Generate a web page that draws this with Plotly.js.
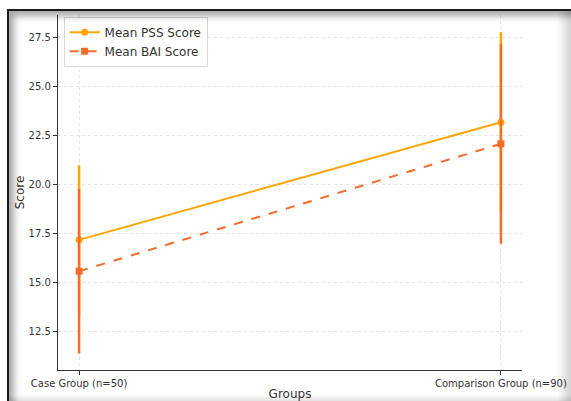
<!DOCTYPE html>
<html>
<head>
<meta charset="utf-8">
<script src="https://cdn.plot.ly/plotly-3.0.1.min.js"></script>
<style>
  html, body { margin: 0; padding: 0; background: #fff; }
  #wrap { position: relative; width: 571px; height: 401px; overflow: hidden; }
  #chart { position: absolute; left: 0; top: 0; width: 571px; height: 401px; }
  #frame { position: absolute; left: 7px; top: 9px; width: 580px; height: 400px;
           border-top: 2px solid #1a1a1a; border-left: 2px solid #1a1a1a;
           box-shadow: inset 7px 7px 7px -2px rgba(0,0,0,0.35);
           pointer-events: none; }
  #rshade { position: absolute; right: 0; top: 11px; width: 14px; height: 390px;
            background: linear-gradient(to right, rgba(0,0,0,0), rgba(0,0,0,0.18));
            pointer-events: none; }
  #bshade { position: absolute; left: 9px; bottom: 0; width: 562px; height: 6px;
            background: linear-gradient(to bottom, rgba(0,0,0,0), rgba(0,0,0,0.12));
            pointer-events: none; }
</style>
</head>
<body>
<div id="wrap">
  <div id="chart"></div>
  <div id="frame"></div>
  <div id="rshade"></div>
  <div id="bshade"></div>
</div>
<script>
const groups = ["Case Group (n=50)", "Comparison Group (n=90)"];
const pssMean = [17.2, 23.2];
const pssErr = [3.8, 4.6];
const baiMean = [15.6, 22.1];
const baiErr = [4.2, 5.1];
const yTicks = [12.5, 15.0, 17.5, 20.0, 22.5, 25.0, 27.5];

const PSS_COLOR = "#FFA500";
const BAI_COLOR = "#F56B2A";

const traces = [
  {
    x: groups, y: pssMean, type: "scatter", mode: "lines+markers",
    name: "Mean PSS Score",
    line: { color: PSS_COLOR, width: 2 },
    marker: { color: PSS_COLOR, symbol: "circle", size: 7 },
    error_y: { type: "data", array: pssErr, visible: true, color: PSS_COLOR, thickness: 2.5, width: 0 }
  },
  {
    x: groups, y: baiMean, type: "scatter", mode: "lines+markers",
    name: "Mean BAI Score",
    line: { color: BAI_COLOR, width: 2, dash: "dash" },
    marker: { color: BAI_COLOR, symbol: "square", size: 7 },
    error_y: { type: "data", array: baiErr, visible: true, color: BAI_COLOR, thickness: 2.5, width: 0 }
  }
];

const layout = {
  width: 571, height: 401,
  margin: { l: 58, r: 49, t: 15, b: 31 },
  paper_bgcolor: "#ffffff", plot_bgcolor: "#ffffff",
  font: { family: "DejaVu Sans", color: "#333333", size: 10 },
  showlegend: true,
  legend: {
    x: 0.012, y: 0.995, xanchor: "left", yanchor: "top",
    bgcolor: "rgba(255,255,255,0.9)", bordercolor: "#d8d8d8", borderwidth: 1,
    font: { family: "DejaVu Sans", size: 12, color: "#333333" },
    tracegroupgap: 0, itemwidth: 30
  },
  xaxis: {
    type: "category", range: [-0.05, 1.05],
    showline: true, linecolor: "#333333", linewidth: 1.2,
    ticks: "outside", ticklen: 4, tickcolor: "#333333",
    showgrid: true, gridcolor: "#e4e4e4", griddash: "dot", gridwidth: 1,
    zeroline: false, mirror: false,
    tickfont: { family: "DejaVu Sans", size: 10, color: "#333333" },
    title: { text: "Groups", font: { family: "DejaVu Sans", size: 12, color: "#333333" }, standoff: 2 }
  },
  yaxis: {
    range: [10.56, 28.67], tickvals: yTicks, tickformat: ".1f",
    showline: true, linecolor: "#333333", linewidth: 1.2,
    ticks: "outside", ticklen: 4, tickcolor: "#333333",
    showgrid: true, gridcolor: "#e4e4e4", griddash: "dot", gridwidth: 1,
    zeroline: false, mirror: false,
    tickfont: { family: "DejaVu Sans", size: 10, color: "#333333" },
    title: { text: "Score", font: { family: "DejaVu Sans", size: 12, color: "#333333" }, standoff: 1 }
  }
};

Plotly.newPlot("chart", traces, layout, { displayModeBar: false, staticPlot: true });
</script>
</body>
</html>
